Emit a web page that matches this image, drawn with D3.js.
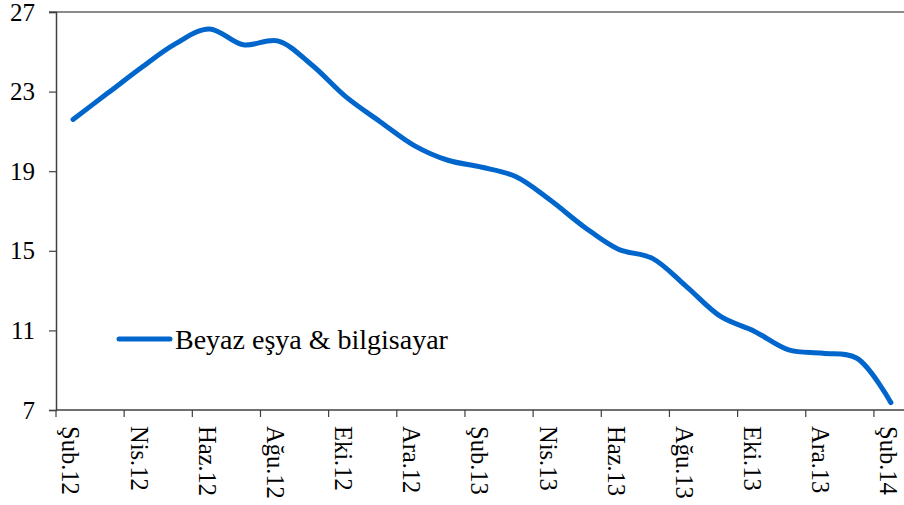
<!DOCTYPE html>
<html>
<head>
<meta charset="utf-8">
<script src="https://cdn.jsdelivr.net/npm/d3@7"></script>
<style>
  html, body { margin: 0; padding: 0; background: #fff; overflow: hidden; }
  svg { display: block; }
</style>
</head>
<body>
<svg id="chart" width="904" height="505"></svg>
<script>
const months = ["Şub.12","Mar.12","Nis.12","May.12","Haz.12","Tem.12","Ağu.12","Eyl.12","Eki.12","Kas.12","Ara.12","Oca.13",
                "Şub.13","Mar.13","Nis.13","May.13","Haz.13","Tem.13","Ağu.13","Eyl.13","Eki.13","Kas.13","Ara.13","Oca.14","Şub.14"];
const values = [21.6, 22.9, 24.2, 25.4, 26.15, 25.35, 25.55, 24.35, 22.75, 21.5, 20.3, 19.55,
                19.2, 18.72, 17.55, 16.2, 15.08, 14.62, 13.2, 11.7, 10.95, 10.02, 9.85, 9.6, 7.37];
const shownLabels = months.filter((d, i) => i % 2 === 0);
const yTicks = [7, 11, 15, 19, 23, 27];
const seriesName = "Beyaz eşya & bilgisayar";

const FONT = '"Liberation Serif", "Times New Roman", serif';
const svg = d3.select("#chart");
const mLeft = 56, mRight = 908, mTop = 12, mBottom = 410;

const x = d3.scaleBand().domain(months).range([mLeft, mRight]).padding(0);
const y = d3.scaleLinear().domain([7, 27]).range([mBottom, mTop]);

// top border gridline
svg.append("line")
  .attr("x1", mLeft - 7).attr("x2", 904)
  .attr("y1", y(27)).attr("y2", y(27))
  .attr("stroke", "#8c8c8c").attr("stroke-width", 2);

// Y axis
const yAxis = d3.axisLeft(y).tickValues(yTicks).tickSize(7).tickPadding(14).tickFormat(d3.format("d"));
const gy = svg.append("g").attr("transform", `translate(${mLeft},0)`).call(yAxis);
gy.select(".domain").attr("stroke", "#404040").attr("stroke-width", 1.5);
gy.selectAll(".tick line").attr("stroke", "#404040").attr("stroke-width", 1.2);
gy.selectAll(".tick text").style("font-family", FONT).style("font-size", "25px").attr("fill", "#000");

// X axis (ticks between categories, every second one)
const gx = svg.append("g");
gx.append("line").attr("x1", mLeft).attr("x2", 904).attr("y1", mBottom).attr("y2", mBottom)
  .attr("stroke", "#404040").attr("stroke-width", 1.5);
gx.selectAll("line.tk").data(shownLabels).enter().append("line").attr("class", "tk")
  .attr("x1", d => x(d)).attr("x2", d => x(d))
  .attr("y1", mBottom).attr("y2", mBottom + 7)
  .attr("stroke", "#404040").attr("stroke-width", 1.2);
gx.selectAll("text").data(shownLabels).enter().append("text")
  .attr("transform", d => `translate(${x(d) + x.bandwidth() / 2 - 2},${mBottom + 16}) rotate(90)`)
  .attr("dy", "0.35em")
  .attr("text-anchor", "start")
  .style("font-family", FONT)
  .style("font-size", "24.5px")
  .attr("fill", "#000")
  .text(d => d);

// line
const line = d3.line()
  .x((d, i) => x(months[i]) + x.bandwidth() / 2)
  .y(d => y(d))
  .curve(d3.curveCatmullRom.alpha(0.5));
svg.append("path").datum(values)
  .attr("d", line)
  .attr("fill", "none")
  .attr("stroke", "#0066CC")
  .attr("stroke-width", 5)
  .attr("stroke-linecap", "round")
  .attr("stroke-linejoin", "round");

// legend
const lg = svg.append("g");
lg.append("line").attr("x1", 119).attr("x2", 170).attr("y1", 339).attr("y2", 339)
  .attr("stroke", "#0066CC").attr("stroke-width", 5).attr("stroke-linecap", "round");
lg.append("text").attr("x", 175).attr("y", 349)
  .style("font-family", FONT).style("font-size", "28px").attr("fill", "#000")
  .text(seriesName);
</script>
</body>
</html>
